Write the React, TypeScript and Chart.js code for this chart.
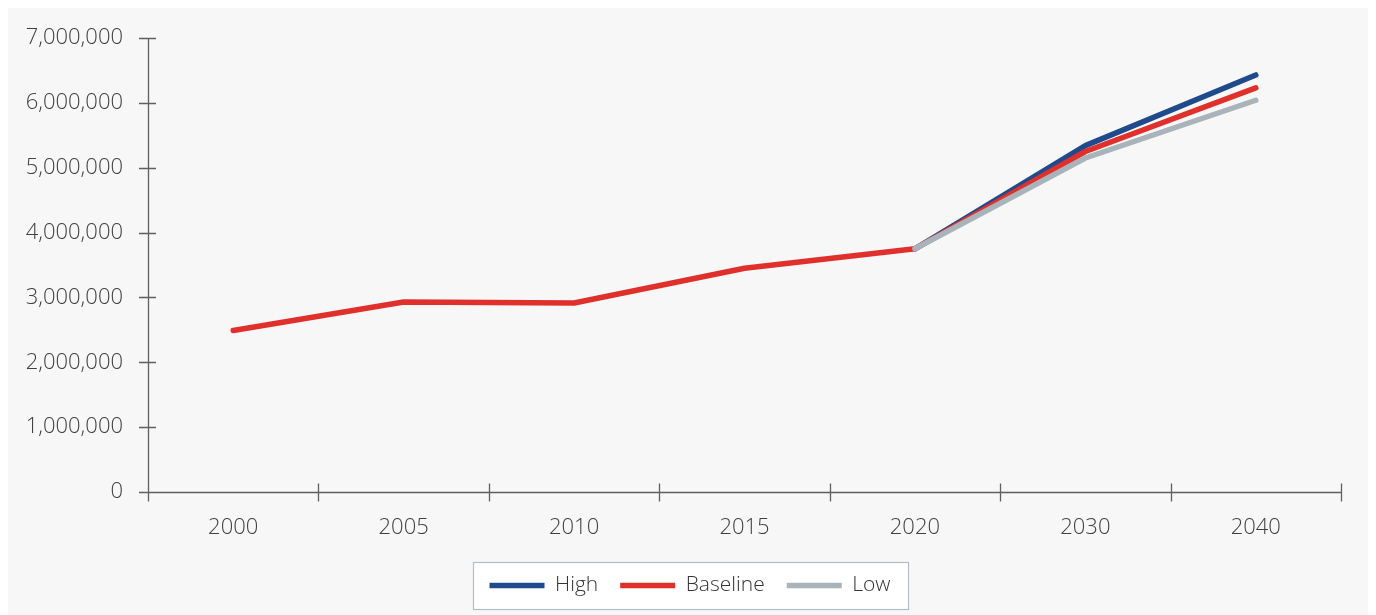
import React, { useEffect, useRef } from "react";
import { Chart, registerables } from "chart.js";

Chart.register(...registerables);

const categories = ["2000", "2005", "2010", "2015", "2020", "2030", "2040"];
const highValues = [null, null, null, null, 3750000, 5340000, 6430000];
const baselineValues = [2490000, 2930000, 2915000, 3450000, 3750000, 5250000, 6230000];
const lowValues = [null, null, null, null, 3750000, 5150000, 6040000];
const yTicks = [0, 1000000, 2000000, 3000000, 4000000, 5000000, 6000000, 7000000];

const AXIS_COLOR = "#5f5f5f";
const TEXT_COLOR = "#404040";
const FONT = "'Open Sans', 'Noto Sans', sans-serif";

function legendRect(chart: any) {
  const lg = chart.legend;
  if (!lg || !lg.legendHitBoxes || !lg.legendHitBoxes.length) return null;
  const boxes = lg.legendHitBoxes;
  const l = Math.min(...boxes.map((b: any) => b.left));
  const r = Math.max(...boxes.map((b: any) => b.left + b.width));
  const cy = boxes[0].top + boxes[0].height / 2;
  const x0 = Math.round(l - 17) + 0.5;
  const x1 = Math.round(r + 18) + 0.5;
  const y0 = Math.round(cy - 24) + 0.5;
  const y1 = Math.round(cy + 23) + 0.5;
  return { x0, x1, y0, y1 };
}

const bgPlugin = {
  id: "bg",
  beforeDraw(chart: any) {
    const ctx = chart.ctx;
    ctx.save();
    ctx.fillStyle = "#f7f7f7";
    ctx.fillRect(0, 0, chart.width, chart.height);
    const r = legendRect(chart);
    if (r) {
      ctx.fillStyle = "#ffffff";
      ctx.fillRect(r.x0, r.y0, r.x1 - r.x0, r.y1 - r.y0);
      ctx.strokeStyle = "#b4bcc4";
      ctx.lineWidth = 1.2;
      ctx.strokeRect(r.x0, r.y0, r.x1 - r.x0, r.y1 - r.y0);
    }
    ctx.restore();
  },
};

const axisTicksPlugin = {
  id: "axisTicks",
  afterDraw(chart: any) {
    const ctx = chart.ctx;
    const area = chart.chartArea;
    const y = chart.scales.y;
    ctx.save();
    ctx.strokeStyle = AXIS_COLOR;
    ctx.lineWidth = 1.3;
    ctx.beginPath();
    const lx = Math.round(area.left) + 0.5;
    ctx.moveTo(lx, area.top);
    ctx.lineTo(lx, area.bottom + 9);
    for (const v of yTicks) {
      const py = Math.round(y.getPixelForValue(v)) + 0.5;
      ctx.moveTo(area.left - 9, py);
      ctx.lineTo(area.left + 8, py);
    }
    const by = Math.round(area.bottom) + 0.5;
    ctx.moveTo(area.left - 9, by);
    ctx.lineTo(area.right, by);
    const n = categories.length;
    for (let i = 0; i <= n; i++) {
      const px = Math.round(area.left + (i * (area.right - area.left)) / n) + 0.5;
      ctx.moveTo(px, by - 9);
      ctx.lineTo(px, by + 9);
    }
    ctx.stroke();
    ctx.restore();
  },
};

export default function App() {
  const canvasRef = useRef<HTMLCanvasElement | null>(null);

  useEffect(() => {
    if (!canvasRef.current) return;
    const common = {
      pointRadius: 0,
      pointHoverRadius: 0,
      borderWidth: 5.5,
      borderCapStyle: "round" as const,
      borderJoinStyle: "round" as const,
      tension: 0,
      fill: false,
      spanGaps: false,
    };
    const chart = new Chart(canvasRef.current, {
      type: "line",
      data: {
        labels: categories,
        datasets: [
          { label: "High", data: highValues, borderColor: "#1f4a8c", backgroundColor: "#1f4a8c", order: 2, ...common },
          { label: "Baseline", data: baselineValues, borderColor: "#e0302c", backgroundColor: "#e0302c", order: 1, ...common },
          { label: "Low", data: lowValues, borderColor: "#a9b3ba", backgroundColor: "#a9b3ba", order: 0, ...common },
        ],
      },
      options: {
        animation: false,
        responsive: true,
        maintainAspectRatio: false,
        layout: { padding: { top: 30, right: 0, left: 0, bottom: 9 } },
        plugins: {
          tooltip: { enabled: false },
          legend: {
            position: "bottom",
            labels: {
              usePointStyle: true,
              pointStyle: "line",
              pointStyleWidth: 55,
              boxHeight: 18,
              padding: 22,
              color: "#333333",
              font: { family: FONT, size: 21, weight: "300" },
              sort: (a: any, b: any) => a.datasetIndex - b.datasetIndex,
            },
          },
        },
        scales: {
          x: {
            offset: true,
            border: { display: false },
            grid: { display: false, drawTicks: false },
            ticks: { color: TEXT_COLOR, font: { family: FONT, size: 22, weight: "300" }, padding: 23 },
            afterFit(scale: any) {
              scale.height = 61;
            },
          },
          y: {
            min: 0,
            max: 7000000,
            border: { display: false },
            grid: { display: false, drawTicks: false },
            ticks: {
              stepSize: 1000000,
              color: TEXT_COLOR,
              font: { family: FONT, size: 22, weight: "300" },
              padding: 25,
              callback: (v: any) => Number(v).toLocaleString("en-US"),
            },
            afterFit(scale: any) {
              scale.width = 140;
              scale.paddingTop = 0;
            },
          },
          yRightSpacer: {
            position: "right",
            display: true,
            border: { display: false },
            grid: { display: false, drawTicks: false },
            ticks: { display: false },
            afterFit(scale: any) {
              scale.width = 31;
            },
          },
        },
      },
      plugins: [bgPlugin, axisTicksPlugin],
    });
    return () => chart.destroy();
  }, []);

  return (
    <div style={{ width: 1364, height: 607, position: "relative" }}>
      <canvas ref={canvasRef} />
    </div>
  );
}
